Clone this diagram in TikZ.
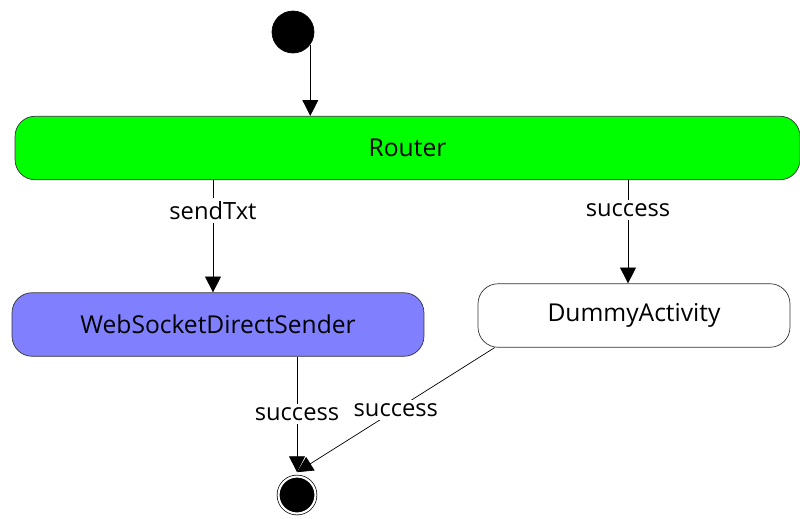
\documentclass[tikz,border=0pt]{standalone}
\usepackage{fontspec}
\setmainfont{Open Sans}
\usetikzlibrary{arrows.meta,positioning,calc}
\definecolor{routergreen}{HTML}{00FF00}
\definecolor{senderblue}{HTML}{8080FF}
\tikzset{
  act/.style     ={draw=black!80,rounded corners=0.4cm,minimum height=1.27cm,inner sep=2pt,font=\fontsize{14}{16}\selectfont},
  ar/.style      ={-{Triangle[length=9pt,width=9pt]},black},
  startdot/.style={circle,fill=black,draw=black,inner sep=0pt,minimum size=0.84cm},
  enddot/.style  ={circle,fill=black,draw=black,double=white,double distance=1.2pt,inner sep=0pt,minimum size=0.74cm},
  lbl/.style     ={fill=white,inner sep=2pt,font=\fontsize{13.5}{15}\selectfont},
}
\begin{document}
\begin{tikzpicture}[x=0.02cm,y=-0.02cm]
  \useasboundingbox (0,0) rectangle (800,518);
  \node[startdot] (start) at (293,32){};
  \node[act,fill=routergreen,minimum width=15.7cm] (router) at (407.5,148){Router};
  \node[act,fill=senderblue,minimum width=8.24cm] (sender) at (218,324.5){WebSocketDirectSender};
  \node[act,fill=white,minimum width=6.24cm] (dummy) at (634,315.5){DummyActivity};
  \node[enddot] (end) at (297,495){};
  \draw[ar] (start.-36) -- (start.-36 |- router.north);
  \draw[ar] ([xshift=-0.1cm]sender.north |- router.south) -- node[lbl,pos=0.27]{sendTxt} ([xshift=-0.1cm]sender.north);
  \draw[ar] ([xshift=-0.12cm]dummy.north |- router.south) -- node[lbl,pos=0.29]{success} ([xshift=-0.12cm]dummy.north);
  \draw[ar] (end.north |- sender.south) -- node[lbl]{success} ([yshift=0.08cm]end.north);
  \draw[ar] ([xshift=0.34cm]dummy.south west) -- node[lbl]{success} ([yshift=0.08cm]end.north);
\end{tikzpicture}
\end{document}
